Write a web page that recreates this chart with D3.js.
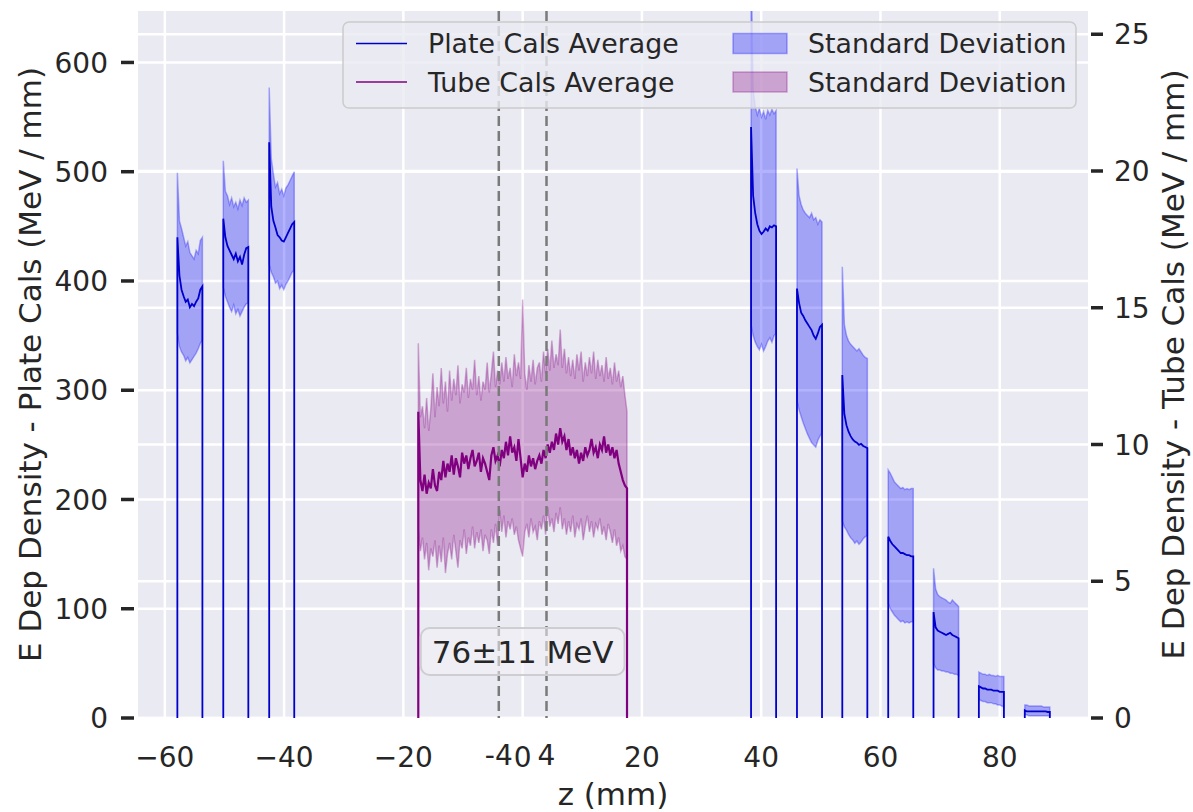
<!DOCTYPE html>
<html>
<head>
<meta charset="utf-8">
<script src="https://cdn.jsdelivr.net/npm/d3@7"></script>
<style>
  body { margin: 0; background: #ffffff; }
  text { font-family: "DejaVu Sans", sans-serif; fill: #262626; }
</style>
</head>
<body>
<div id="chart"></div>
<script>
// ---- data ----
var xTicks = [-60, -40, -20, 0, 20, 40, 60, 80];
var extraTicks = [-4, 4];
var extraTickLabels = ["-4", "4"];
var leftTicks = [0, 100, 200, 300, 400, 500, 600];
var rightTicks = [0, 5, 10, 15, 20, 25];

var step = 0.35; // mm between samples

// plate calorimeters (MeV / mm), one row per plate
var plateStarts = [-57.9, -50.2, -42.5, 38.3, 46.0, 53.6, 61.3, 68.9, 76.5, 84.2];
var plateMean = [
  [440, 405, 392, 386, 381, 383, 376, 379, 377, 381, 384, 392, 395],
  [457, 440, 432, 428, 424, 420, 425, 418, 422, 415, 424, 430, 431],
  [527, 468, 455, 449, 442, 440, 437, 436, 440, 444, 448, 452, 454],
  [541, 478, 462, 452, 446, 443, 445, 448, 446, 450, 449, 451, 450],
  [393, 380, 371, 368, 364, 361, 358, 355, 350, 347, 352, 358, 360],
  [314, 278, 268, 262, 258, 255, 253, 252, 250, 251, 249, 248, 247],
  [166, 162, 159, 157, 155, 153, 151, 151, 150, 149, 149, 148, 148],
  [97, 83, 80, 79, 78, 77, 76, 77, 78, 76, 75, 74, 73],
  [29, 28, 27, 27, 26, 26, 26, 25, 25, 25, 24, 24, 24],
  [7, 6, 6, 6, 6, 6, 6, 6, 6, 6, 6, 5.5, 5.5]
];
var plateUpper = [
  [499, 455, 448, 440, 432, 436, 426, 423, 420, 428, 425, 437, 440],
  [510, 482, 478, 470, 476, 468, 472, 466, 474, 469, 476, 472, 474],
  [577, 512, 498, 486, 490, 480, 484, 478, 485, 488, 492, 496, 500],
  [700, 575, 560, 552, 558, 550, 555, 548, 556, 552, 557, 553, 556],
  [503, 478, 470, 465, 462, 460, 458, 462, 456, 458, 452, 456, 454],
  [413, 360, 350, 345, 342, 340, 338, 336, 338, 335, 332, 330, 329],
  [227, 224, 220, 216, 214, 212, 210, 211, 209, 210, 209, 210, 210],
  [137, 118, 113, 111, 110, 109, 108, 106, 105, 108, 106, 104, 102],
  [42, 41, 40, 40, 39, 40, 39, 39, 38, 39, 38, 38, 38],
  [12, 12, 11, 11, 11, 11, 11, 11, 11, 10, 10, 10, 10]
];
var plateLower = [
  [352, 340, 335, 332, 327, 330, 325, 328, 331, 334, 338, 343, 346],
  [394, 386, 381, 376, 372, 378, 370, 374, 368, 372, 376, 379, 380],
  [415, 408, 404, 398, 400, 393, 396, 392, 397, 400, 404, 408, 410],
  [360, 350, 344, 340, 337, 342, 336, 340, 345, 348, 344, 350, 352],
  [291, 282, 276, 270, 265, 260, 256, 252, 250, 248, 254, 258, 261],
  [180, 175, 172, 168, 165, 163, 160, 162, 159, 161, 164, 166, 167],
  [105, 100, 97, 94, 92, 90, 88, 89, 87, 88, 87, 88, 88],
  [50, 46, 44, 44, 43, 43, 42, 42, 41, 41, 40, 40, 39],
  [17, 16, 15, 15, 14, 14, 14, 13, 13, 12, 12, 11, 10],
  [3, 3, 2, 2, 2, 2, 2, 2, 2, 2, 2, 2, 2]
];

// tube calorimeter (MeV / mm), right axis
var tubeStart = -17.5;
var tubeMean = [
  11.2, 8.7, 8.3, 8.9, 8.2, 8.6, 8.4, 9.1, 8.5, 8.3,
  9.0, 8.7, 9.4, 8.8, 9.3, 9.0, 9.6, 8.9, 9.5, 9.2,
  8.8, 9.7, 9.3, 9.6, 9.1, 9.5, 9.8, 9.2, 9.4, 9.7,
  9.0, 9.5, 9.3, 9.0, 8.7, 9.6, 9.9, 9.4, 9.6, 9.2,
  9.8, 9.5, 10.1, 9.6, 10.3, 9.7, 9.9, 9.4, 10.2, 9.5,
  8.8, 9.3, 9.0, 9.6, 9.2, 9.5, 9.1, 9.4, 9.6, 9.3,
  9.8, 9.5, 10.0, 9.7, 10.1, 9.8, 10.4, 10.0, 10.6, 10.1,
  10.3, 9.8, 10.2, 9.6, 9.9, 9.5, 9.8, 9.3, 9.7, 9.4,
  9.9, 9.6, 9.8, 10.2, 9.7, 9.9, 9.5, 10.0, 9.8, 10.3,
  9.7, 10.0, 9.6, 9.9, 9.5, 9.8, 9.3, 9.0, 8.7, 8.5,
  8.4
];
var tubeUpper = [
  13.7, 11.0, 11.4, 10.6, 11.7, 10.5, 11.3, 12.6, 11.0, 12.1,
  11.4, 12.8, 11.5, 12.3, 11.2, 12.7, 11.6, 12.4, 11.8, 12.9,
  11.5, 12.2, 11.9, 12.8, 11.7, 12.4, 12.0, 13.1, 11.8, 12.5,
  11.6, 12.3, 12.0, 13.0, 11.9, 12.6, 13.4, 12.1, 12.7, 12.2,
  13.0, 12.3, 13.2, 12.4, 12.8, 12.1, 13.3, 12.5, 13.0, 12.4,
  15.3, 12.6, 12.0, 12.9, 12.3, 13.1, 12.2, 12.8, 13.0, 12.3,
  13.4, 12.6, 13.5, 12.7, 13.8, 12.8, 13.3, 12.9, 14.2, 12.8,
  13.5, 12.6, 13.2, 12.5, 13.1, 12.4, 13.3, 12.7, 13.4, 12.3,
  13.0, 12.5, 13.2, 12.6, 13.4, 12.4, 13.1, 12.5, 12.9, 12.3,
  13.2, 12.4, 12.8, 12.2, 13.0, 12.3, 12.7, 12.1, 12.5, 11.8,
  11.2
];
var tubeLower = [
  6.9, 6.1, 6.6, 5.8, 6.4, 5.4, 6.2, 5.9, 6.5, 5.5,
  6.3, 5.7, 6.6, 5.3, 6.0, 6.4, 5.8, 6.7, 6.1, 5.5,
  6.5, 6.2, 6.9, 6.0, 6.6, 6.3, 7.0, 6.2, 6.8, 6.4,
  6.9, 6.1, 6.7, 6.5, 6.0, 6.9, 6.4, 7.1, 6.3, 7.6,
  6.8, 7.4, 6.6, 7.2, 6.9, 7.3, 6.7, 7.0, 6.5, 6.2,
  5.9, 6.8, 7.1, 6.6, 7.3, 6.8, 7.0, 6.5, 7.2, 6.9,
  7.4, 6.7, 7.7, 7.0, 7.3, 6.8, 7.5, 7.1, 7.7, 6.9,
  7.3, 6.7, 7.2, 6.8, 7.4, 6.6, 7.1, 6.9, 7.3, 6.5,
  7.0, 7.4, 6.8, 7.2, 6.6, 7.1, 6.9, 7.3, 6.7, 7.0,
  6.5, 7.1, 6.8, 6.4, 6.9, 6.3, 6.6, 6.1, 6.3, 5.9,
  5.8
];

var dashedAt = [-4, 4];
var boxText = "76±11 MeV";
var legendLines = ["Plate Cals Average", "Tube Cals Average"];
var legendPatches = ["Standard Deviation", "Standard Deviation"];

var plateColor = "mediumblue", plateFill = "blue";
var tubeColor = "purple", tubeFill = "purple";

// set the dimensions and margins of the graph
var margin = {top: 11, right: 105, bottom: 94, left: 138},
  width = 1193 - margin.left - margin.right,
  height = 812 - margin.top - margin.bottom;

var svg = d3.select("#chart")
  .append("svg")
    .attr("width", 1193)
    .attr("height", 812)
  .append("g")
    .attr("transform", "translate(" + margin.left + "," + margin.top + ")");

var x = d3.scaleLinear().domain([-64.5, 94.8]).range([0, width]);
var yL = d3.scaleLinear().domain([0, 647.1]).range([height, 0]);
var yR = d3.scaleLinear().domain([0, 25.85]).range([height, 0]);

svg.append("defs").append("clipPath").attr("id", "clip")
  .append("rect").attr("width", width).attr("height", height);

// background + grid
svg.append("rect")
  .attr("width", width).attr("height", height)
  .attr("fill", "#eaeaf2");

var grid = svg.append("g").attr("stroke", "#ffffff").attr("stroke-width", 2.5);
grid.selectAll(".gx").data(xTicks).enter().append("line")
  .attr("x1", function(d) { return x(d); }).attr("x2", function(d) { return x(d); })
  .attr("y1", 0).attr("y2", height);
grid.selectAll(".gl").data(leftTicks).enter().append("line")
  .attr("x1", 0).attr("x2", width)
  .attr("y1", function(d) { return yL(d); }).attr("y2", function(d) { return yL(d); });
grid.selectAll(".gr").data(rightTicks).enter().append("line")
  .attr("x1", 0).attr("x2", width)
  .attr("y1", function(d) { return yR(d); }).attr("y2", function(d) { return yR(d); });

var plot = svg.append("g").attr("clip-path", "url(#clip)");

function band(start, up, lo, y) {
  var pts = up.map(function(u, i) { return [start + i * step, u, lo[i]]; });
  return d3.area()
    .x(function(d) { return x(d[0]); })
    .y0(function(d) { return y(d[2]); })
    .y1(function(d) { return y(d[1]); })(pts);
}
function meanPath(start, vals, y) {
  var pts = [[start, 0]];
  vals.forEach(function(v, i) { pts.push([start + i * step, v]); });
  pts.push([start + (vals.length - 1) * step, 0]);
  return d3.line()
    .x(function(d) { return x(d[0]); })
    .y(function(d) { return y(d[1]); })(pts);
}

// plate bands + means
plateStarts.forEach(function(s, k) {
  plot.append("path")
    .attr("d", band(s, plateUpper[k], plateLower[k], yL))
    .attr("fill", plateFill).attr("fill-opacity", 0.3)
    .attr("stroke", plateFill).attr("stroke-opacity", 0.3).attr("stroke-width", 1.5);
});
plateStarts.forEach(function(s, k) {
  plot.append("path")
    .attr("d", meanPath(s, plateMean[k], yL))
    .attr("fill", "none").attr("stroke", plateColor).attr("stroke-width", 1.8);
});

// tube band + mean
plot.append("path")
  .attr("d", band(tubeStart, tubeUpper, tubeLower, yR))
  .attr("fill", tubeFill).attr("fill-opacity", 0.3)
  .attr("stroke", tubeFill).attr("stroke-opacity", 0.3).attr("stroke-width", 1.5);
plot.append("path")
  .attr("d", meanPath(tubeStart, tubeMean, yR))
  .attr("fill", "none").attr("stroke", tubeColor).attr("stroke-width", 2.2);

// dashed markers
plot.selectAll(".dash").data(dashedAt).enter().append("line")
  .attr("x1", function(d) { return x(d); }).attr("x2", function(d) { return x(d); })
  .attr("y1", 0).attr("y2", height)
  .attr("stroke", "#7a7a7a").attr("stroke-width", 2.5)
  .attr("stroke-dasharray", "10,5");

// axes: left
var left = svg.append("g");
left.selectAll("line").data(leftTicks).enter().append("line")
  .attr("x1", -17).attr("x2", -4)
  .attr("y1", function(d) { return yL(d); }).attr("y2", function(d) { return yL(d); })
  .attr("stroke", "#262626").attr("stroke-width", 3.5);
left.selectAll("text").data(leftTicks).enter().append("text")
  .attr("x", -30).attr("y", function(d) { return yL(d); })
  .attr("dy", "0.36em").attr("text-anchor", "end")
  .attr("font-size", "28px").text(function(d) { return d; });

// axes: right
var right = svg.append("g").attr("transform", "translate(" + width + ",0)");
right.selectAll("line").data(rightTicks).enter().append("line")
  .attr("x1", 3).attr("x2", 15)
  .attr("y1", function(d) { return yR(d); }).attr("y2", function(d) { return yR(d); })
  .attr("stroke", "#262626").attr("stroke-width", 3.5);
right.selectAll("text").data(rightTicks).enter().append("text")
  .attr("x", 26).attr("y", function(d) { return yR(d); })
  .attr("dy", "0.36em").attr("text-anchor", "start")
  .attr("font-size", "28px").text(function(d) { return d; });

// axes: bottom
var bottom = svg.append("g").attr("transform", "translate(0," + height + ")");
bottom.selectAll(".xt").data(xTicks).enter().append("text")
  .attr("x", function(d) { return x(d); }).attr("y", 49)
  .attr("text-anchor", "middle").attr("font-size", "28px")
  .text(function(d) { return d < 0 ? "\u2212" + Math.abs(d) : d; });
bottom.selectAll(".xe").data(extraTicks).enter().append("text")
  .attr("x", function(d) { return x(d); }).attr("y", 47)
  .attr("text-anchor", "middle").attr("font-size", "28px")
  .text(function(d, i) { return extraTickLabels[i]; });

// axis titles
svg.append("text")
  .attr("x", width / 2).attr("y", height + 87)
  .attr("text-anchor", "middle").attr("font-size", "31px")
  .text("z (mm)");
svg.append("text")
  .attr("transform", "translate(" + (-108) + "," + (height / 2) + ") rotate(-90)")
  .attr("text-anchor", "middle").attr("dy", "0.36em").attr("font-size", "31px")
  .text("E Dep Density - Plate Cals (MeV / mm)");
svg.append("text")
  .attr("transform", "translate(" + (width + 85) + "," + (height / 2) + ") rotate(-90)")
  .attr("text-anchor", "middle").attr("dy", "0.36em").attr("font-size", "31px")
  .text("E Dep Density - Tube Cals (MeV / mm)");

// annotation box
var ann = svg.append("g").attr("transform", "translate(" + x(0) + "," + (height - 66.5) + ")");
var annBox = ann.append("rect");
var annText = ann.append("text")
  .attr("text-anchor", "middle").attr("dy", "0.36em").attr("font-size", "31px")
  .text(boxText);
var bb = annText.node().getBBox();
annBox.attr("x", bb.x - 11).attr("y", -23.5)
  .attr("width", bb.width + 22).attr("height", 47)
  .attr("rx", 9).attr("ry", 9)
  .attr("fill", "#f0f0f5").attr("fill-opacity", 0.55)
  .attr("stroke", "#cdcdd2").attr("stroke-width", 2);

// legend
var lg = svg.append("g").attr("transform", "translate(205,11)");
lg.append("rect")
  .attr("width", 733).attr("height", 86).attr("rx", 6).attr("ry", 6)
  .attr("fill", "#eaeaf2").attr("fill-opacity", 0.8)
  .attr("stroke", "#cccccc").attr("stroke-width", 1.5);
var rowsY = [21.5, 60];
var lineCols = [plateColor, tubeColor];
var fillCols = [plateFill, tubeFill];
legendLines.forEach(function(t, i) {
  lg.append("line")
    .attr("x1", 13).attr("x2", 64).attr("y1", rowsY[i]).attr("y2", rowsY[i])
    .attr("stroke", lineCols[i]).attr("stroke-width", 1.6);
  lg.append("text")
    .attr("x", 85).attr("y", rowsY[i]).attr("dy", "0.36em")
    .attr("font-size", "26.8px").text(t);
});
legendPatches.forEach(function(t, i) {
  lg.append("rect")
    .attr("x", 390).attr("y", rowsY[i] - 10).attr("width", 54).attr("height", 20)
    .attr("fill", fillCols[i]).attr("fill-opacity", 0.3)
    .attr("stroke", fillCols[i]).attr("stroke-opacity", 0.3).attr("stroke-width", 1.5);
  lg.append("text")
    .attr("x", 465).attr("y", rowsY[i]).attr("dy", "0.36em")
    .attr("font-size", "26.8px").text(t);
});
</script>
</body>
</html>
